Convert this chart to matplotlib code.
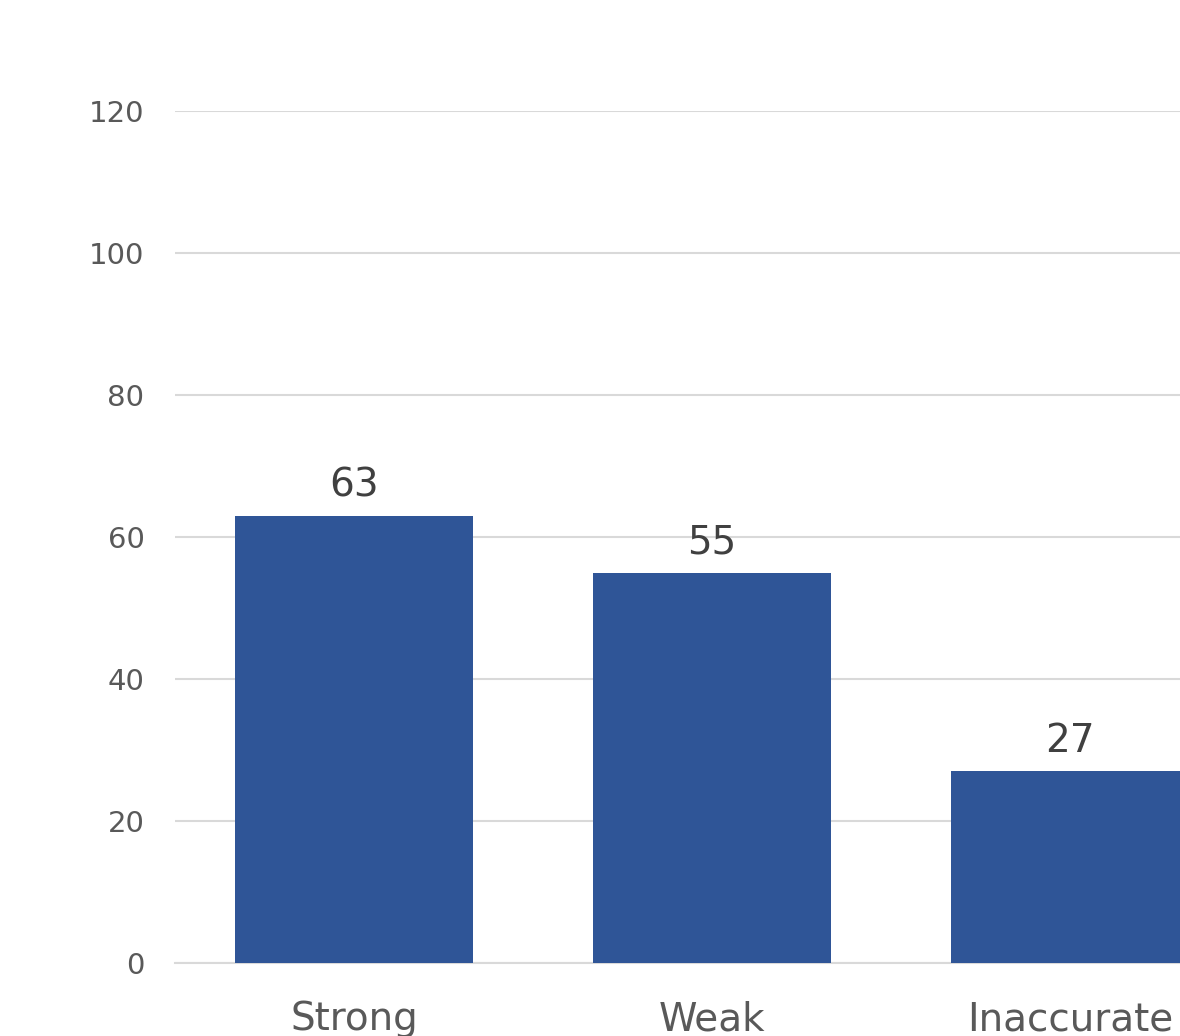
import matplotlib.pyplot as plt
import numpy as np

# Data
categories = ["Strong", "Weak", "Inaccurate"]
counts = [63, 55, 27]
y_ticks = [0, 20, 40, 60, 80, 100, 120]

plt.rcParams["font.family"] = ["DejaVu Sans"]

fig = plt.figure(figsize=(11.8, 10.36), dpi=100)
ax = fig.add_axes([175 / 1180, 73 / 1036, 1005 / 1180, 852 / 1036])

x = np.arange(len(categories))
ax.bar(x, counts, width=0.665, color="#2F5597", zorder=3)

# Value labels above bars
for xi, v in zip(x, counts):
    ax.annotate(str(v), (xi, v), xytext=(0, 14), textcoords="offset points",
                ha="center", va="baseline", fontsize=28, color="#404040")

ax.set_xlim(-0.5, 2.307)
ax.set_ylim(0, 120)
ax.set_yticks(y_ticks)
ax.set_xticks(x)
ax.set_xticklabels(categories)

ax.grid(axis="y", color="#D9D9D9", linewidth=1.5, zorder=0)
ax.tick_params(axis="y", length=0, pad=22, labelsize=21, labelcolor="#595959")
ax.tick_params(axis="x", length=0, pad=27, labelsize=28, labelcolor="#595959")

for side in ["top", "right", "left"]:
    ax.spines[side].set_visible(False)
ax.spines["bottom"].set_color("#D9D9D9")
ax.spines["bottom"].set_linewidth(1.5)

plt.savefig("out.png", dpi=100)
